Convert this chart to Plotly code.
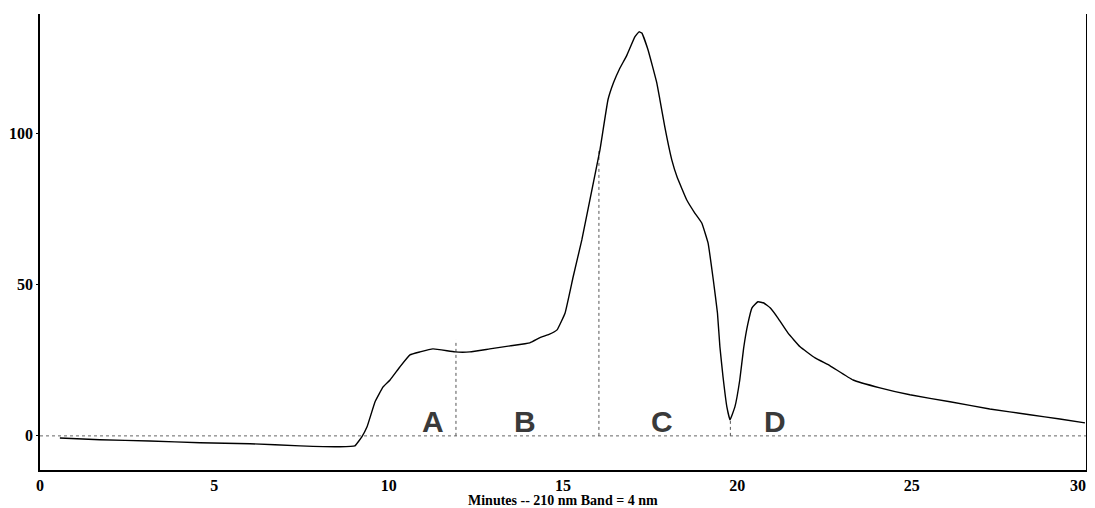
import plotly.graph_objects as go

# Chromatogram trace (minutes, absorbance units)
time_min = [0.57, 1.72, 3.15, 4.59, 6.02, 7.46, 8.6, 9.03, 9.23, 9.38, 9.61, 9.84, 10.04,
            10.32, 10.61, 10.9, 11.27, 11.9, 12.33, 12.9, 13.48, 14.05, 14.34, 14.6,
            14.83, 15.06, 15.29, 15.54, 15.77, 16.06, 16.29, 16.45, 16.62, 16.83,
            17.06, 17.18, 17.26, 17.44, 17.69, 17.78, 17.92, 18.12, 18.27, 18.55,
            18.78, 18.98, 19.16, 19.31, 19.43, 19.5, 19.59, 19.7, 19.79, 19.93, 20.07,
            20.18, 20.3, 20.42, 20.59, 20.76, 20.94, 21.16, 21.45, 21.8, 22.23, 22.66,
            23.32, 24.09, 24.95, 26.1, 27.24, 28.39, 29.25, 29.97]
signal = [-0.7, -1.3, -1.7, -2.3, -2.6, -3.3, -3.6, -3.3, -0.3, 3.0, 11.3, 16.2, 18.5,
          22.8, 26.8, 27.8, 28.8, 27.8, 27.8, 28.8, 29.8, 30.8, 32.5, 33.6,
          35.1, 40.7, 52.6, 64.9, 78.1, 94.7, 111.3, 117.0, 121.5, 126.0,
          132.1, 133.8, 133.4, 127.8, 116.9, 111.3, 102.3, 91.4, 85.8, 78.1,
          73.8, 70.5, 63.9, 51.7, 40.7, 29.5, 19.5, 9.6, 5.3, 9.6, 18.5,
          29.0, 37.0, 42.4, 44.4, 44.0, 42.4, 39.1, 34.1, 29.5, 25.8, 23.2,
          18.5, 15.9, 13.6, 11.3, 8.9, 7.0, 5.6, 4.3]

# Fraction cut points (drop lines) and their heights
cut_times = [11.93, 16.03, 19.8]
cut_heights = [31.8, 94.7, 5.3]

# Fraction labels
frac_labels = ["A", "B", "C", "D"]
frac_label_x = [11.27, 13.91, 17.84, 21.08]
frac_label_y = [4.6, 4.6, 4.6, 4.6]

baseline_x = [0, 30]
baseline_y = [0, 0]

x_ticks = [0, 5, 10, 15, 20, 25, 30]
x_tick_labels = ["0", "5", "10", "15", "20", "25", "30"]
y_ticks = [0, 50, 100]
y_tick_labels = ["0", "50", "100"]

x_title = "Minutes -- 210 nm Band = 4 nm"

fig = go.Figure()

# dotted baseline
fig.add_trace(go.Scatter(x=baseline_x, y=baseline_y, mode="lines",
                         line=dict(color="#666666", width=1, dash="dot"),
                         showlegend=False, hoverinfo="skip"))

# drop lines
for t, h in zip(cut_times, cut_heights):
    fig.add_trace(go.Scatter(x=[t, t], y=[0, h], mode="lines",
                             line=dict(color="#555555", width=1, dash="dot"),
                             showlegend=False, hoverinfo="skip"))

# chromatogram
fig.add_trace(go.Scatter(x=time_min, y=signal, mode="lines",
                         line=dict(color="black", width=1.4, shape="spline", smoothing=0.3),
                         showlegend=False))

for lab, lx, ly in zip(frac_labels, frac_label_x, frac_label_y):
    fig.add_annotation(x=lx, y=ly, text=lab, showarrow=False,
                       font=dict(family="Liberation Sans", size=30, color="#3a3a3a", weight="bold"))

# x-axis title as annotation for precise placement
fig.add_annotation(xref="paper", yref="paper", x=0.5, y=-0.067, text=x_title,
                   showarrow=False, xanchor="center", yanchor="middle",
                   font=dict(family="Liberation Serif", size=14, color="black", weight="bold"))

tickfont = dict(family="Liberation Serif", size=16, color="black", weight="bold")

# keep the last x label inside the visible window edge
x_tick_display = x_tick_labels[:-1] + [x_tick_labels[-1] + "\u00a0\u00a0\u00a0\u00a0"]

fig.update_layout(
    width=1087, height=508,
    margin=dict(l=32, r=9, t=6, b=46, autoexpand=False),
    paper_bgcolor="white", plot_bgcolor="white",
    showlegend=False,
    xaxis=dict(range=[0, 30], tickvals=x_ticks, ticktext=x_tick_display,
               automargin=False, ticklabeloverflow="allow",
               showgrid=False, zeroline=False, showline=True, linecolor="black", linewidth=1.5,
               ticks="", tickfont=tickfont),
    yaxis=dict(range=[-11.3, 139.7], tickvals=y_ticks, ticktext=y_tick_labels,
               automargin=False,
               showgrid=False, zeroline=False, showline=True, mirror=True, linecolor="black", linewidth=1.5,
               ticks="outside", ticklen=2, tickcolor="black", tickfont=tickfont),
)

fig.write_html("out.html")
